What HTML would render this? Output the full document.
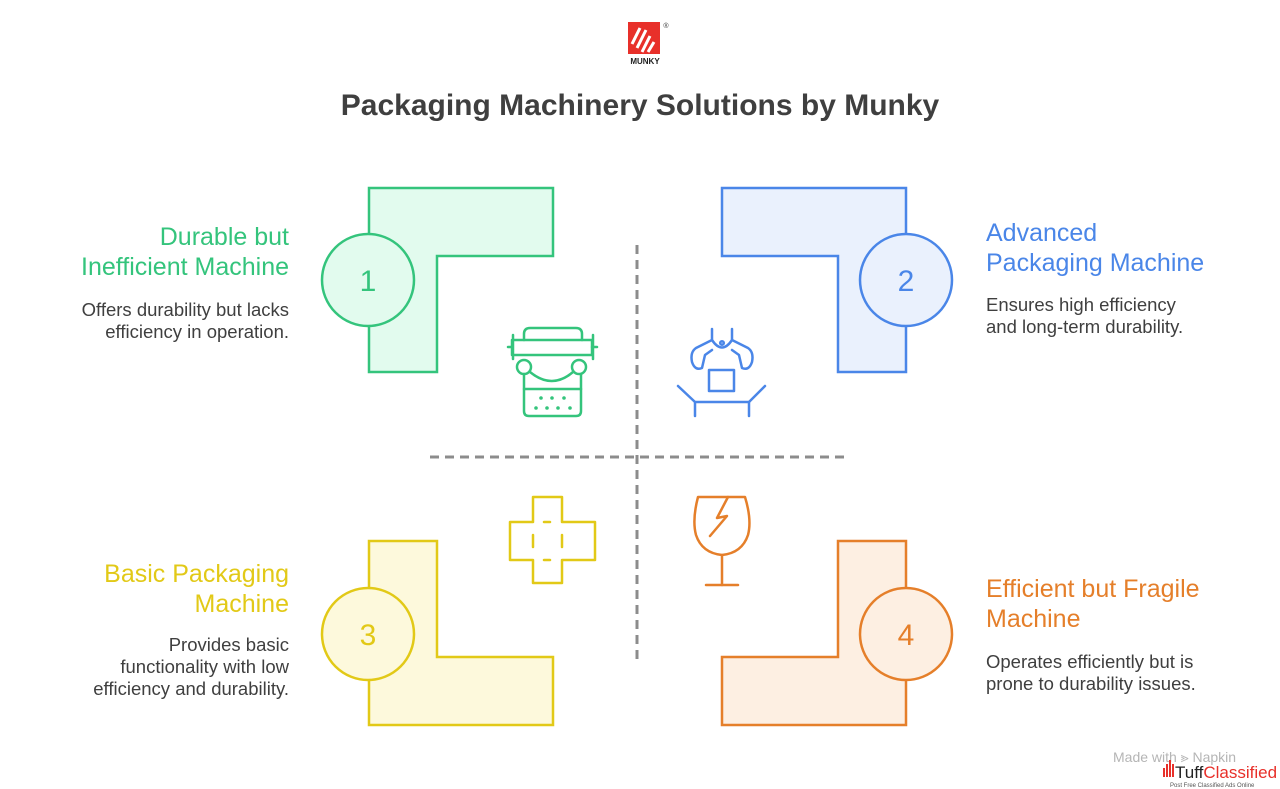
<!DOCTYPE html>
<html><head><meta charset="utf-8"><style>
html,body{margin:0;padding:0;background:#fff;width:1280px;height:789px;overflow:hidden}
svg text{font-family:"Liberation Sans",Arial,sans-serif}
</style></head><body>
<svg width="1280" height="789" viewBox="0 0 1280 789" xmlns="http://www.w3.org/2000/svg">
<!-- logo -->
<rect x="628" y="22" width="32" height="32" fill="#e8302a"/>
<path d="M632 44 L640 28 M637 48 L646 30 M642 52 L650 36 M648 52 L654 42" stroke="#fff" stroke-width="3"/>
<text x="645" y="64" font-size="8" font-weight="bold" text-anchor="middle" fill="#222">MUNKY</text>
<text x="666" y="28" font-size="7" text-anchor="middle" fill="#333">®</text>
<text x="640" y="115" font-size="30" font-weight="bold" text-anchor="middle" fill="#3f3f3f">Packaging Machinery Solutions by Munky</text>

<!-- dashed lines -->
<line x1="637" y1="245" x2="637" y2="665" stroke="#8c8c8c" stroke-width="3" stroke-dasharray="9,6"/>
<line x1="430" y1="457" x2="845" y2="457" stroke="#8c8c8c" stroke-width="3" stroke-dasharray="9,6"/>

<!-- shapes -->
<g stroke-width="2.5">
<path d="M369 188 H553 V256 H437 V372 H369 Z" fill="#e2fbee" stroke="#34c47c"/>
<circle cx="368" cy="280" r="46" fill="#e2fbee" stroke="#34c47c"/>
<path d="M722 188 H906 V372 H838 V256 H722 Z" fill="#eaf1fd" stroke="#4a86e8"/>
<circle cx="906" cy="280" r="46" fill="#eaf1fd" stroke="#4a86e8"/>
<path d="M369 541 H437 V657 H553 V725 H369 Z" fill="#fdf9dc" stroke="#e2c917"/>
<circle cx="368" cy="634" r="46" fill="#fdf9dc" stroke="#e2c917"/>
<path d="M838 541 H906 V725 H722 V657 H838 Z" fill="#fdefe2" stroke="#e57f2a"/>
<circle cx="906" cy="634" r="46" fill="#fdefe2" stroke="#e57f2a"/>
</g>
<g font-size="30" text-anchor="middle">
<text x="368" y="291" fill="#34c47c">1</text>
<text x="906" y="291" fill="#4a86e8">2</text>
<text x="368" y="645" fill="#e2c917">3</text>
<text x="906" y="645" fill="#e57f2a">4</text>
</g>

<!-- icons -->
<g fill="none" stroke-width="2.5" stroke-linecap="round" stroke-linejoin="round">
<g stroke="#34c47c">
<path d="M524 340 V334 Q524 328 530 328 H576 Q582 328 582 334 V340"/>
<rect x="512" y="340" width="80" height="15"/>
<line x1="508" y1="347" x2="512" y2="347"/><line x1="592" y1="347" x2="597" y2="347"/>
<line x1="513" y1="335" x2="513" y2="359"/><line x1="593" y1="335" x2="593" y2="359"/>
<circle cx="524" cy="367" r="7"/><circle cx="579" cy="367" r="7"/>
<path d="M530 372 Q552 390 573 372"/>
<path d="M524 374 V411 Q524 416 529 416 H576 Q581 416 581 411 V374"/>
<line x1="524" y1="389" x2="581" y2="389"/>
</g>
<g fill="#34c47c"><circle cx="541" cy="398" r="1.8"/><circle cx="552" cy="398" r="1.8"/><circle cx="564" cy="398" r="1.8"/><circle cx="536" cy="408" r="1.8"/><circle cx="547" cy="408" r="1.8"/><circle cx="558" cy="408" r="1.8"/><circle cx="570" cy="408" r="1.8"/></g>
<g stroke="#4a86e8">
<path d="M712 329 V340 Q722 355 732 340 V329"/>
<circle cx="722" cy="343" r="1.8"/>
<path d="M712 340 L696 348 Q690 352 692 362 Q695 371 702 368 L705 355 L712 350"/>
<path d="M732 340 L748 348 Q754 352 752 362 Q749 371 742 368 L739 355 L732 350"/>
<rect x="709" y="370" width="25" height="21"/>
<path d="M678 386 L695 402 H749 L765 386"/>
<line x1="695" y1="402" x2="695" y2="416"/><line x1="749" y1="402" x2="749" y2="416"/>
</g>
<g stroke="#e2c917">
<path d="M533 497 H562 V522 H595 V560 H562 V583 H533 V560 H510 V522 H533 Z"/>
<path d="M544 522 H550 M544 560 H550 M533 535 V547 M562 535 V547" />
</g>
<g stroke="#e57f2a">
<path d="M698 497 H745 Q752 520 748 535 Q742 553 722 555 Q702 553 696 535 Q692 520 698 497 Z"/>
<path d="M728 497 L717 518 L727 516 L710 536"/>
<line x1="722" y1="555" x2="722" y2="585"/>
<line x1="706" y1="585" x2="738" y2="585"/>
</g>
</g>

<!-- text -->
<g font-size="25">
<text x="289" y="245" text-anchor="end" fill="#34c47c">Durable but</text>
<text x="289" y="275" text-anchor="end" fill="#34c47c">Inefficient Machine</text>
<text x="986" y="241" fill="#4a86e8">Advanced</text>
<text x="986" y="271" fill="#4a86e8">Packaging Machine</text>
<text x="289" y="582" text-anchor="end" fill="#e2c917">Basic Packaging</text>
<text x="289" y="612" text-anchor="end" fill="#e2c917">Machine</text>
<text x="986" y="597" fill="#e57f2a">Efficient but Fragile</text>
<text x="986" y="627" fill="#e57f2a">Machine</text>
</g>
<g font-size="18.5" fill="#3f3f3f">
<text x="289" y="316" text-anchor="end">Offers durability but lacks</text>
<text x="289" y="338" text-anchor="end">efficiency in operation.</text>
<text x="986" y="311">Ensures high efficiency</text>
<text x="986" y="333">and long-term durability.</text>
<text x="289" y="651" text-anchor="end">Provides basic</text>
<text x="289" y="673" text-anchor="end">functionality with low</text>
<text x="289" y="695" text-anchor="end">efficiency and durability.</text>
<text x="986" y="668">Operates efficiently but is</text>
<text x="986" y="690">prone to durability issues.</text>
</g>

<!-- watermark -->
<text x="1113" y="762" font-size="14" fill="#b5b5b5">Made with ⪢ Napkin</text>
<g fill="#e8302a"><rect x="1163" y="768" width="2" height="9"/><rect x="1166" y="764" width="2" height="13"/><rect x="1169" y="760" width="2" height="17"/><rect x="1172" y="764" width="2" height="13"/></g>
<text x="1175" y="778" font-size="17" fill="#222">Tuff<tspan fill="#e8302a">Classified</tspan></text>
<text x="1170" y="787" font-size="6" fill="#555">Post Free Classified Ads Online</text>
</svg>
</body></html>
